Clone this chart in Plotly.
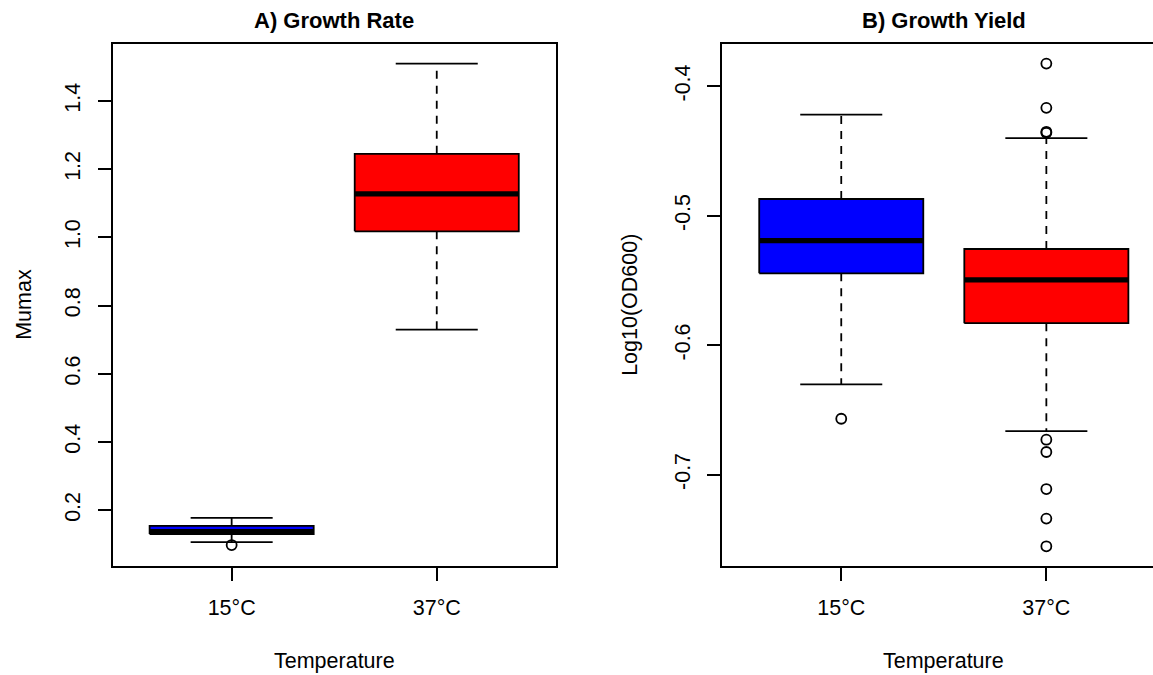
import plotly.graph_objects as go

W, H = 1153, 675

# Categories shared by both panels
categories = ["15°C", "37°C"]
positions = [1, 2]
box_colors = ["#0000FF", "#FF0000"]

# A) Growth rate (Mumax): five-number summaries per temperature
rate_lower = [0.1064, 0.7296]
rate_q1 = [0.1298, 1.0176]
rate_median = [0.1370, 1.1277]
rate_q3 = [0.1540, 1.2450]
rate_upper = [0.1775, 1.5094]
rate_outliers = [[0.0976], []]

# B) Growth yield (Log10 OD600)
yield_lower = [-0.6303, -0.6663]
yield_q1 = [-0.5445, -0.5830]
yield_median = [-0.5193, -0.5496]
yield_q3 = [-0.4871, -0.5257]
yield_upper = [-0.4219, -0.4401]
yield_outliers = [
    [-0.6568],
    [-0.3825, -0.4167, -0.4352, -0.4360, -0.6730, -0.6825, -0.7111, -0.7339, -0.7553],
]

rate_ticks = [0.2, 0.4, 0.6, 0.8, 1.0, 1.2, 1.4]
yield_ticks = [-0.7, -0.6, -0.5, -0.4]

FONT = "Liberation Sans, Arial, sans-serif"
LINE = "#000000"
LW = 1.8
HALF = 0.4      # half box width
STAPLE = 0.2    # half staple width


def px_x(p):
    return p / W


def px_y(p):
    return 1 - p / H


fig = go.Figure()


def add_boxes(xa, ya, lower, q1, med, q3, upper, outl):
    for i, c in enumerate(positions):
        common = dict(xaxis=xa, yaxis=ya, showlegend=False, hoverinfo="skip")
        # dashed whiskers
        for a, b in ((q3[i], upper[i]), (q1[i], lower[i])):
            fig.add_trace(go.Scatter(x=[c, c], y=[a, b], mode="lines",
                                     line=dict(color=LINE, width=LW, dash="8px,7px"), **common))
        # staples
        for v in (upper[i], lower[i]):
            fig.add_trace(go.Scatter(x=[c - STAPLE, c + STAPLE], y=[v, v], mode="lines",
                                     line=dict(color=LINE, width=LW), **common))
        # box
        fig.add_trace(go.Scatter(
            x=[c - HALF, c + HALF, c + HALF, c - HALF, c - HALF],
            y=[q1[i], q1[i], q3[i], q3[i], q1[i]],
            mode="lines", fill="toself", fillcolor=box_colors[i],
            line=dict(color=LINE, width=LW), **common))
        # median
        fig.add_trace(go.Scatter(x=[c - HALF, c + HALF], y=[med[i], med[i]], mode="lines",
                                 line=dict(color=LINE, width=5.2), **common))
        # outliers
        if outl[i]:
            fig.add_trace(go.Scatter(x=[c] * len(outl[i]), y=outl[i], mode="markers",
                                     marker=dict(symbol="circle-open", size=10,
                                                 color=LINE, line=dict(width=1.8)),
                                     **common))


add_boxes("x", "y", rate_lower, rate_q1, rate_median, rate_q3, rate_upper, rate_outliers)
add_boxes("x2", "y2", yield_lower, yield_q1, yield_median, yield_q3, yield_upper, yield_outliers)

top_px, bot_px = 44, 565.7
ydom = [px_y(bot_px), px_y(top_px)]
a_left, a_right = 112.7, 555.7
b_left = 722.3
unit_px = (a_right - a_left) / 2.16

tick_font = dict(family=FONT, size=21.5, color="#000000")
xcommon = dict(tickvals=positions, ticktext=categories, ticks="outside", ticklen=13,
               tickwidth=LW, tickcolor=LINE, showline=True, linecolor=LINE, linewidth=LW,
               showgrid=False, zeroline=False, tickfont=tick_font, ticklabelstandoff=9,
               fixedrange=True)
ycommon = dict(ticks="outside", ticklen=13, tickwidth=LW, tickcolor=LINE, showline=True,
               linecolor=LINE, linewidth=LW, showgrid=False, zeroline=False,
               tickfont=tick_font, tickangle=-90, ticklabelstandoff=9, fixedrange=True)

fig.update_layout(
    width=W, height=H,
    margin=dict(l=0, r=0, t=0, b=0),
    paper_bgcolor="white", plot_bgcolor="white",
    xaxis=dict(domain=[px_x(a_left), px_x(a_right)], range=[0.42, 2.58], mirror=True,
               anchor="y", **xcommon),
    yaxis=dict(domain=ydom, range=[0.037, 1.567], tickvals=rate_ticks,
               ticktext=[f"{v:.1f}" for v in rate_ticks], mirror=True, anchor="x", **ycommon),
    xaxis2=dict(domain=[px_x(b_left), 1.0],
                range=[0.42, 0.42 + (W - b_left) / unit_px], mirror=True,
                anchor="y2", **xcommon),
    yaxis2=dict(domain=ydom, range=[-0.7703, -0.3674], tickvals=yield_ticks,
                ticktext=[f"{v:.1f}" for v in yield_ticks], mirror=False, anchor="x2",
                **ycommon),
)

b_center = b_left + 1.08 * unit_px
a_center = (a_left + a_right) / 2
mid_y = (top_px + bot_px) / 2

labels = [
    ("A) Growth Rate", a_center, 21, 0, True),
    ("B) Growth Yield", b_center, 21, 0, True),
    ("Temperature", a_center, 661, 0, False),
    ("Temperature", b_center, 661, 0, False),
    ("Mumax", 24, mid_y, -90, False),
    ("Log10(OD600)", 630, mid_y, -90, False),
]
for text, x, y, ang, bold in labels:
    fig.add_annotation(
        text=f"<b>{text}</b>" if bold else text,
        x=px_x(x), y=px_y(y), xref="paper", yref="paper",
        xanchor="center", yanchor="middle", showarrow=False, textangle=ang,
        font=dict(family=FONT, size=22 if bold else 21.5, color="#000000"),
    )

fig.write_html("out.html", config={"displayModeBar": False})
